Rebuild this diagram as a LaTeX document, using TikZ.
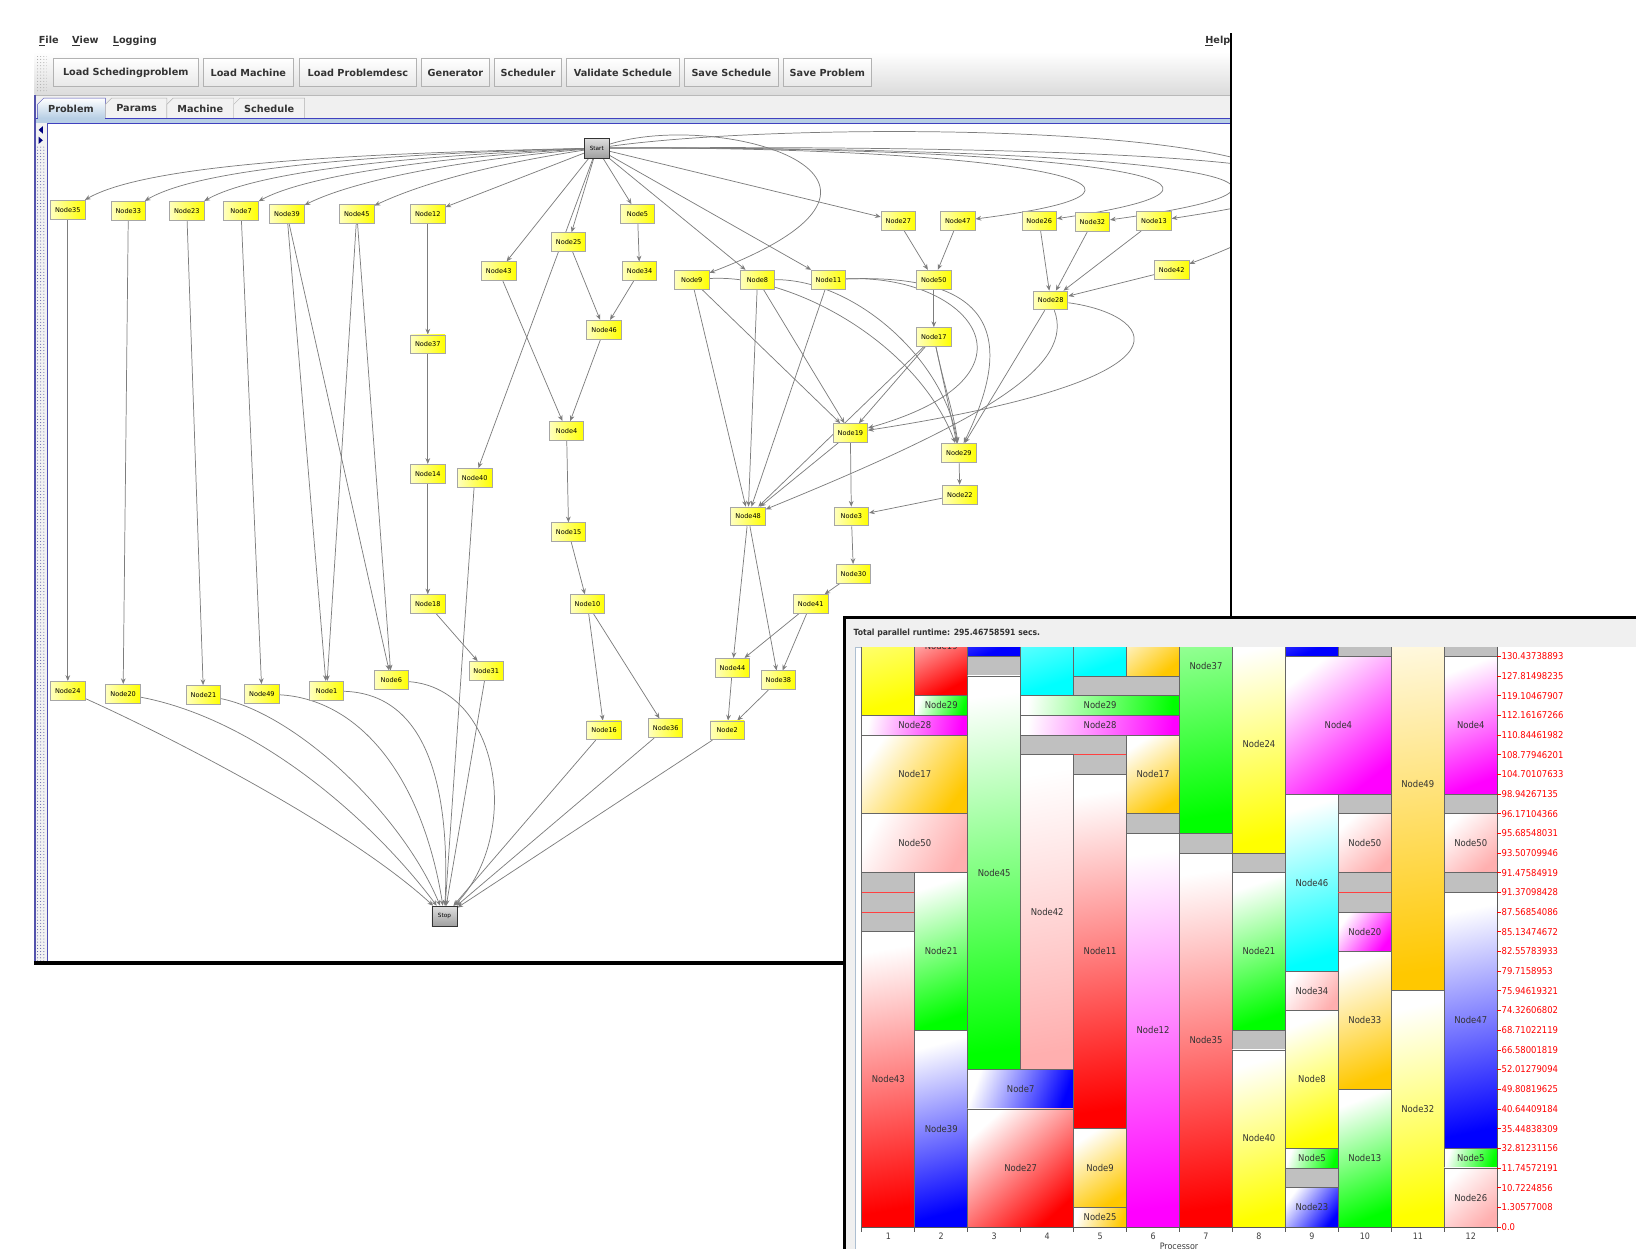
\documentclass[tikz,border=0pt]{standalone}
\usepackage{fontspec}
\newfontfamily\guifont{DejaVu Sans}
\newfontfamily\condfont{DejaVu Sans Condensed}
\usetikzlibrary{arrows.meta,patterns}

\definecolor{jorange}{RGB}{255,200,0}
\definecolor{jpink}{RGB}{255,175,175}
\definecolor{jgrey}{RGB}{192,192,192}
\definecolor{tabblue}{RGB}{184,207,229}
\definecolor{linkgrey}{RGB}{125,125,125}

\pgfdeclarelayer{edges}
\pgfsetlayers{edges,main}

\tikzset{
  gnode/.style={draw=gray!70, line width=.8pt, left color=yellow!25, right color=yellow,
    minimum width=33pt, minimum height=18pt, inner sep=1pt, font=\guifont\fontsize{6.3}{7}\selectfont},
  enode/.style={draw=gray!40!black, line width=.8pt, top color=gray!25, bottom color=gray!75,
    minimum width=24pt, minimum height=19pt, inner sep=1pt, font=\guifont\fontsize{5.5}{6}\selectfont},
  link/.style={draw=linkgrey, line width=.7pt, ->},
  button/.style={draw=gray!60, top color=white, bottom color=gray!18, minimum height=27pt, inner sep=0pt,
    font=\guifont\bfseries\fontsize{9.3}{11}\selectfont, text=black!80},
  menuitem/.style={font=\guifont\bfseries\fontsize{9.3}{11}\selectfont, text=black!80, inner sep=0pt, anchor=west},
  tabtext/.style={font=\guifont\bfseries\fontsize{9.3}{11}\selectfont, text=black!80, inner sep=0pt},
  blockline/.style={draw=black!60, line width=.7pt},
  blocklabel/.style={font=\condfont\fontsize{9}{10}\selectfont, text=black!80, inner sep=0pt},
  gapbox/.style={fill=jgrey, draw=black!60, line width=.7pt},
  axislabel/.style={font=\condfont\fontsize{9}{10}\selectfont, text=red, anchor=west, inner sep=0pt},
  proclabel/.style={font=\condfont\fontsize{8.5}{10}\selectfont, text=black!75, inner sep=0pt},
}

% one task of the schedule: processors #1..#2, from tick #3 down to tick #4
\newcommand{\gblock}[6]{%
  \pgfmathsetmacro{\bxa}{826+(#1-1)*50.75}%
  \pgfmathsetmacro{\bxb}{826+#2*50.75}%
  \pgfmathsetmacro{\bya}{1176-#3*18.862}%
  \pgfmathsetmacro{\byb}{1176-#4*18.862}%
  \pgfmathsetmacro{\bang}{atan((\bxb-\bxa)/(\byb-\bya))}%
  \shade[top color=white, bottom color=#5, shading angle=\bang] (\bxa,\bya) rectangle (\bxb,\byb);
  \draw[blockline] (\bxa,\bya) rectangle (\bxb,\byb);
  \node[blocklabel] (b#1-#4) at ({(\bxa+\bxb)/2},{(\bya+\byb)/2}) {#6};
}
\newcommand{\ggap}[4]{%
  \pgfmathsetmacro{\bxa}{826+(#1-1)*50.75}%
  \pgfmathsetmacro{\bxb}{826+#2*50.75}%
  \pgfmathsetmacro{\bya}{1176-#3*18.862}%
  \pgfmathsetmacro{\byb}{1176-#4*18.862}%
  \draw[gapbox] (\bxa,\bya) rectangle (\bxb,\byb);
}
\newcommand{\redsep}[3]{%
  \pgfmathsetmacro{\bxa}{826+(#1-1)*50.75}%
  \pgfmathsetmacro{\bxb}{826+#2*50.75}%
  \pgfmathsetmacro{\bya}{1176-#3*18.862}%
  \draw[red!75, line width=.8pt] (\bxa,\bya) -- (\bxb,\bya);
}

\begin{document}
\begin{tikzpicture}[x=1pt, y=-1pt, >={Stealth[length=5.5pt,width=4.5pt,inset=1.8pt]}]
\useasboundingbox (0,0) rectangle (1568,1197);

% main window: menu, toolbar, tabs
\shade[top color=white, bottom color=gray!28] (33,50) rectangle (1180,91);
\draw[gray!55] (33,91) -- (1180,91);
\fill[gray!12] (33,92) rectangle (1180,113);
\fill[pattern=dots, pattern color=gray!70] (35,54) rectangle (45,88);

\node[menuitem] (mFile) at (37,39) {\underline{F}ile};
\node[menuitem] (mView) at (69,39) {\underline{V}iew};
\node[menuitem] (mLog) at (108,39) {\underline{L}ogging};
\node[menuitem] (mHelp) at (1155,39) {\underline{H}elp};

\node[button, minimum width=139pt] (bLoadSched) at (120.5,69.5) {Load Schedingproblem};
\node[button, minimum width=86pt] (bLoadMach) at (238,69.5) {Load Machine};
\node[button, minimum width=112pt] (bLoadDesc) at (343,69.5) {Load Problemdesc};
\node[button, minimum width=65pt] (bGen) at (436.5,69.5) {Generator};
\node[button, minimum width=64pt] (bSched) at (506,69.5) {Scheduler};
\node[button, minimum width=108pt] (bValid) at (597,69.5) {Validate Schedule};
\node[button, minimum width=90pt] (bSaveSched) at (701,69.5) {Save Schedule};
\node[button, minimum width=84pt] (bSaveProb) at (793,69.5) {Save Problem};

\shade[top color=white, bottom color=tabblue, draw=gray!60!blue] (36,113) -- (36,100) -- (42,94) -- (101,94) -- (101,113);
\foreach \xa/\xb in {101/160,160/224,224/292}
  \draw[gray!60, fill=gray!10] (\xa,113) -- (\xa,100) -- (\xa+6,94) -- (\xb,94) -- (\xb,113);
\node[tabtext] (tProblem) at (68,104) {Problem};
\node[tabtext] (tParams) at (131,104) {Params};
\node[tabtext] (tMachine) at (192,104) {Machine};
\node[tabtext] (tSchedule) at (258,104) {Schedule};
\fill[tabblue] (33,113) rectangle (1180,118);
\draw[gray!50!blue] (33,113) -- (36,113) (101,113) -- (1180,113) (45,118) -- (1180,118);

% graph panel
\fill[gray!10] (33,118) rectangle (45,921);
\fill[pattern=dots, pattern color=blue!30!gray] (34,140) rectangle (44,921);
\draw[blue!35!gray, line width=1.5pt] (33.5,91) -- (33.5,922);
\draw[gray!60!blue] (45,118) -- (45,921);
\fill[blue!50!black] (41,121) -- (37,124.5) -- (41,128) -- cycle;
\fill[blue!50!black] (37,131) -- (41,134.5) -- (37,138) -- cycle;
\draw[black, line width=3pt] (33,923) -- (810,923);
\draw[black, line width=2.5pt] (1180,32) -- (1180,592);

\node[enode] (Start) at (572,142) {Start};
\node[enode] (Stop) at (426,878) {Stop};

\node[gnode] (Node35) at (65,201) {Node35};
\node[gnode] (Node33) at (123,202) {Node33};
\node[gnode] (Node23) at (179,202) {Node23};
\node[gnode] (Node7) at (231,202) {Node7};
\node[gnode] (Node39) at (275,205) {Node39};
\node[gnode] (Node45) at (342,205) {Node45};
\node[gnode] (Node12) at (410,205) {Node12};
\node[gnode] (Node5) at (611,205) {Node5};
\node[gnode] (Node25) at (545,232) {Node25};
\node[gnode] (Node43) at (478,260) {Node43};
\node[gnode] (Node34) at (613,260) {Node34};
\node[gnode] (Node46) at (579,316) {Node46};
\node[gnode] (Node4) at (543,413) {Node4};
\node[gnode] (Node15) at (545,510) {Node15};
\node[gnode] (Node10) at (563,579) {Node10};
\node[gnode] (Node16) at (579,700) {Node16};
\node[gnode] (Node36) at (638,698) {Node36};
\node[gnode] (Node37) at (410,330) {Node37};
\node[gnode] (Node14) at (410,454) {Node14};
\node[gnode] (Node40) at (455,458) {Node40};
\node[gnode] (Node18) at (410,579) {Node18};
\node[gnode] (Node31) at (466,643) {Node31};
\node[gnode] (Node6) at (375,652) {Node6};
\node[gnode] (Node1) at (313,662) {Node1};
\node[gnode] (Node49) at (251,665) {Node49};
\node[gnode] (Node21) at (195,666) {Node21};
\node[gnode] (Node20) at (118,665) {Node20};
\node[gnode] (Node24) at (65,662) {Node24};
\node[gnode] (Node27) at (861,212) {Node27};
\node[gnode] (Node47) at (918,212) {Node47};
\node[gnode] (Node26) at (996,212) {Node26};
\node[gnode] (Node32) at (1047,213) {Node32};
\node[gnode] (Node13) at (1106,212) {Node13};
\node[gnode] (Node42) at (1123,259) {Node42};
\node[gnode] (Node9) at (663,268) {Node9};
\node[gnode] (Node8) at (726,268) {Node8};
\node[gnode] (Node11) at (794,268) {Node11};
\node[gnode] (Node50) at (895,268) {Node50};
\node[gnode] (Node28) at (1007,288) {Node28};
\node[gnode] (Node17) at (895,323) {Node17};
\node[gnode] (Node19) at (815,415) {Node19};
\node[gnode] (Node29) at (919,434) {Node29};
\node[gnode] (Node22) at (920,474) {Node22};
\node[gnode] (Node48) at (717,495) {Node48};
\node[gnode] (Node3) at (816,495) {Node3};
\node[gnode] (Node30) at (818,550) {Node30};
\node[gnode] (Node41) at (777,579) {Node41};
\node[gnode] (Node44) at (702,640) {Node44};
\node[gnode] (Node38) at (746,652) {Node38};
\node[gnode] (Node2) at (697,700) {Node2};

\begin{pgfonlayer}{edges}
\begin{scope}
\clip (45,118) rectangle (1179,921);
% from Start
\draw[link] (Start) .. controls (330,147) and (140,158) .. (Node35);
\draw[link] (Start) .. controls (350,148) and (190,162) .. (Node33);
\draw[link] (Start) .. controls (380,150) and (245,165) .. (Node23);
\draw[link] (Start) .. controls (400,152) and (290,170) .. (Node7);
\draw[link] (Start) .. controls (425,155) and (335,175) .. (Node39);
\draw[link] (Start) .. controls (455,160) and (395,180) .. (Node45);
\foreach \t in {Node12,Node43,Node25,Node40,Node5,Node8,Node11,Node27}
  \draw[link] (Start) -- (\t);
\draw[link] (Start) .. controls (690,105) and (920,170) .. (Node9);
\draw[link] (Start) .. controls (950,140) and (1185,178) .. (Node47);
\draw[link] (Start) .. controls (1000,140) and (1270,172) .. (Node26);
\draw[link] (Start) .. controls (1050,140) and (1360,170) .. (Node32);
\draw[link] (Start) .. controls (1100,138) and (1450,160) .. (Node13);
\draw[link] (Start) .. controls (800,110) and (1500,120) .. (Node42);
% left part
\foreach \a/\b in {Node35/Node24,Node33/Node20,Node23/Node21,Node7/Node49,Node39/Node1,Node39/Node6,
    Node45/Node1,Node45/Node6,Node12/Node37,Node37/Node14,Node14/Node18,Node18/Node31,Node43/Node4,
    Node25/Node46,Node5/Node34,Node34/Node46,Node46/Node4,Node4/Node15,Node15/Node10,Node10/Node16,Node10/Node36}
  \draw[link] (\a) -- (\b);
% right part
\foreach \a/\b in {Node27/Node50,Node47/Node50,Node50/Node17,Node26/Node28,Node32/Node28,Node13/Node28,
    Node42/Node28,Node9/Node48,Node9/Node19,Node8/Node48,Node8/Node19,Node11/Node48,Node17/Node19,
    Node17/Node48,Node17/Node29,Node28/Node29,Node19/Node48,Node19/Node3,Node29/Node22,Node22/Node3,
    Node3/Node30,Node30/Node41,Node41/Node44,Node41/Node38,Node48/Node44,Node48/Node38,Node44/Node2,Node38/Node2}
  \draw[link] (\a) -- (\b);
\draw[link] (Node17) .. controls (905,370) and (915,400) .. (Node29);
\draw[link] (Node9) .. controls (760,262) and (880,330) .. (Node29);
\draw[link] (Node8) .. controls (820,268) and (905,345) .. (Node29);
\draw[link] (Node11) .. controls (930,262) and (1010,360) .. (Node19);
\draw[link] (Node11) .. controls (950,262) and (975,320) .. (Node29);
\draw[link] (Node28) .. controls (1100,300) and (1170,360) .. (Node19);
\draw[link] (Node28) .. controls (1030,350) and (950,400) .. (Node48);
% into Stop
\draw[link] (Node24) .. controls (150,700) and (330,790) .. (Stop);
\draw[link] (Node20) .. controls (250,690) and (360,790) .. (Stop);
\draw[link] (Node21) .. controls (285,685) and (385,780) .. (Stop);
\draw[link] (Node49) .. controls (345,670) and (405,745) .. (Stop);
\draw[link] (Node1) .. controls (405,665) and (432,745) .. (Stop);
\draw[link] (Node6) .. controls (480,660) and (500,800) .. (Stop);
\foreach \a in {Node40,Node31,Node16,Node36,Node2}
  \draw[link] (\a) -- (Stop);
\end{scope}
\end{pgfonlayer}

% schedule window
\fill[gray!12] (808,591) rectangle (1568,1197);
\fill[white] (819.5,620) rectangle (1568,1197);
\draw[tabblue!80!gray] (819.5,1197) -- (819.5,620) -- (1436,620);
\node[anchor=west, inner sep=0pt, font=\condfont\bfseries\fontsize{8.2}{10}\selectfont, text=black!80]
  (runtime) at (818,606.5) {Total parallel runtime: 295.46758591 secs.};
\draw[black, line width=2.5pt] (808,592) -- (1568,592);
\draw[black, line width=2.5pt] (809.2,591) -- (809.2,1197);

\begin{scope}
\clip (822,620.5) rectangle (1435,1176);
\gblock{1}{1}{35}{26}{yellow}{}
\gblock{2}{2}{32}{27}{red}{Node19}
\gblock{2}{2}{27}{26}{green}{Node29}
\gblock{1}{2}{26}{25}{magenta}{Node28}
\gblock{1}{2}{25}{21}{jorange}{Node17}
\gblock{1}{2}{21}{18}{jpink}{Node50}
\ggap{1}{1}{18}{17} \ggap{1}{1}{17}{16} \ggap{1}{1}{16}{15}
\redsep{1}{1}{17} \redsep{1}{1}{16}
\gblock{1}{1}{15}{0}{red}{Node43}
\gblock{2}{2}{18}{10}{green}{Node21}
\gblock{2}{2}{10}{0}{blue}{Node39}
\gblock{3}{3}{35}{29}{blue}{}
\ggap{3}{3}{29}{28}
\gblock{3}{3}{28}{8}{green}{Node45}
\gblock{3}{4}{8}{6}{blue}{Node7}
\gblock{3}{4}{6}{0}{red}{Node27}
\gblock{4}{4}{35}{27}{cyan}{}
\gblock{4}{6}{27}{26}{green}{Node29}
\gblock{4}{6}{26}{25}{magenta}{Node28}
\ggap{4}{5}{25}{24}
\gblock{4}{4}{24}{8}{jpink}{Node42}
\gblock{5}{5}{35}{28}{cyan}{}
\ggap{5}{6}{28}{27}
\ggap{5}{5}{24}{23}
\redsep{5}{5}{24}
\gblock{5}{5}{23}{5}{red}{Node11}
\gblock{5}{5}{5}{1}{jorange}{Node9}
\gblock{5}{5}{1}{0}{jorange}{Node25}
\gblock{6}{6}{31.3}{28}{jorange}{Node1}
\gblock{6}{6}{25}{21}{jorange}{Node17}
\ggap{6}{6}{21}{20}
\gblock{6}{6}{20}{0}{magenta}{Node12}
\gblock{7}{7}{37}{20}{green}{Node37}
\ggap{7}{7}{20}{19}
\gblock{7}{7}{19}{0}{red}{Node35}
\gblock{8}{8}{30.1}{19}{yellow}{Node24}
\ggap{8}{8}{19}{18}
\gblock{8}{8}{18}{10}{green}{Node21}
\ggap{8}{8}{10}{9}
\gblock{8}{8}{9}{0}{yellow}{Node40}
\gblock{9}{9}{35}{29}{blue}{}
\ggap{10}{10}{35}{29}
\gblock{9}{10}{29}{22}{magenta}{Node4}
\gblock{9}{9}{22}{13}{cyan}{Node46}
\gblock{9}{9}{13}{11}{jpink}{Node34}
\gblock{9}{9}{11}{4}{yellow}{Node8}
\gblock{9}{9}{4}{3}{green}{Node5}
\ggap{9}{9}{3}{2}
\gblock{9}{9}{2}{0}{blue}{Node23}
\ggap{10}{10}{22}{21}
\gblock{10}{10}{21}{18}{jpink}{Node50}
\ggap{10}{10}{18}{17} \ggap{10}{10}{17}{16}
\redsep{10}{10}{17}
\gblock{10}{10}{16}{14}{magenta}{Node20}
\gblock{10}{10}{14}{7}{jorange}{Node33}
\gblock{10}{10}{7}{0}{green}{Node13}
\gblock{11}{11}{33}{12}{jorange}{Node49}
\gblock{11}{11}{12}{0}{yellow}{Node32}
\ggap{12}{12}{35}{29}
\gblock{12}{12}{29}{22}{magenta}{Node4}
\ggap{12}{12}{22}{21}
\gblock{12}{12}{21}{18}{jpink}{Node50}
\ggap{12}{12}{18}{17}
\gblock{12}{12}{17}{4}{blue}{Node47}
\gblock{12}{12}{4}{3}{green}{Node5}
\gblock{12}{12}{3}{0}{jpink}{Node26}
\end{scope}

% axes
\draw[gray!70!black, line width=.8pt] (1435,620) -- (1435,1176) -- (826,1176);
\foreach \p in {0,...,12}
  \draw[gray!70!black, line width=.7pt] ({826+\p*50.75},1176) -- ++(0,5);
\foreach \p in {1,...,12}
  \node[proclabel] (proc\p) at ({826+(\p-0.5)*50.75},1184.5) {\p};
\node[proclabel] (procname) at (1130,1194.5) {Processor};
\foreach \v [count=\i from 0] in {0.0,1.30577008,10.7224856,11.74572191,32.81231156,35.44838309,
    40.64409184,49.80819625,52.01279094,66.58001819,68.71022119,74.32606802,75.94619321,79.7158953,
    82.55783933,85.13474672,87.56854086,91.37098428,91.47584919,93.50709946,95.68548031,96.17104366,
    98.94267135,104.70107633,108.77946201,110.84461982,112.16167266,119.10467907,127.81498235,130.43738893}
{
  \draw[red, line width=.7pt] (1435,{1176-\i*18.862}) -- ++(3.5,0);
  \node[axislabel] (tick\i) at (1439,{1176-\i*18.862}) {\v};
}
\end{tikzpicture}
\end{document}
